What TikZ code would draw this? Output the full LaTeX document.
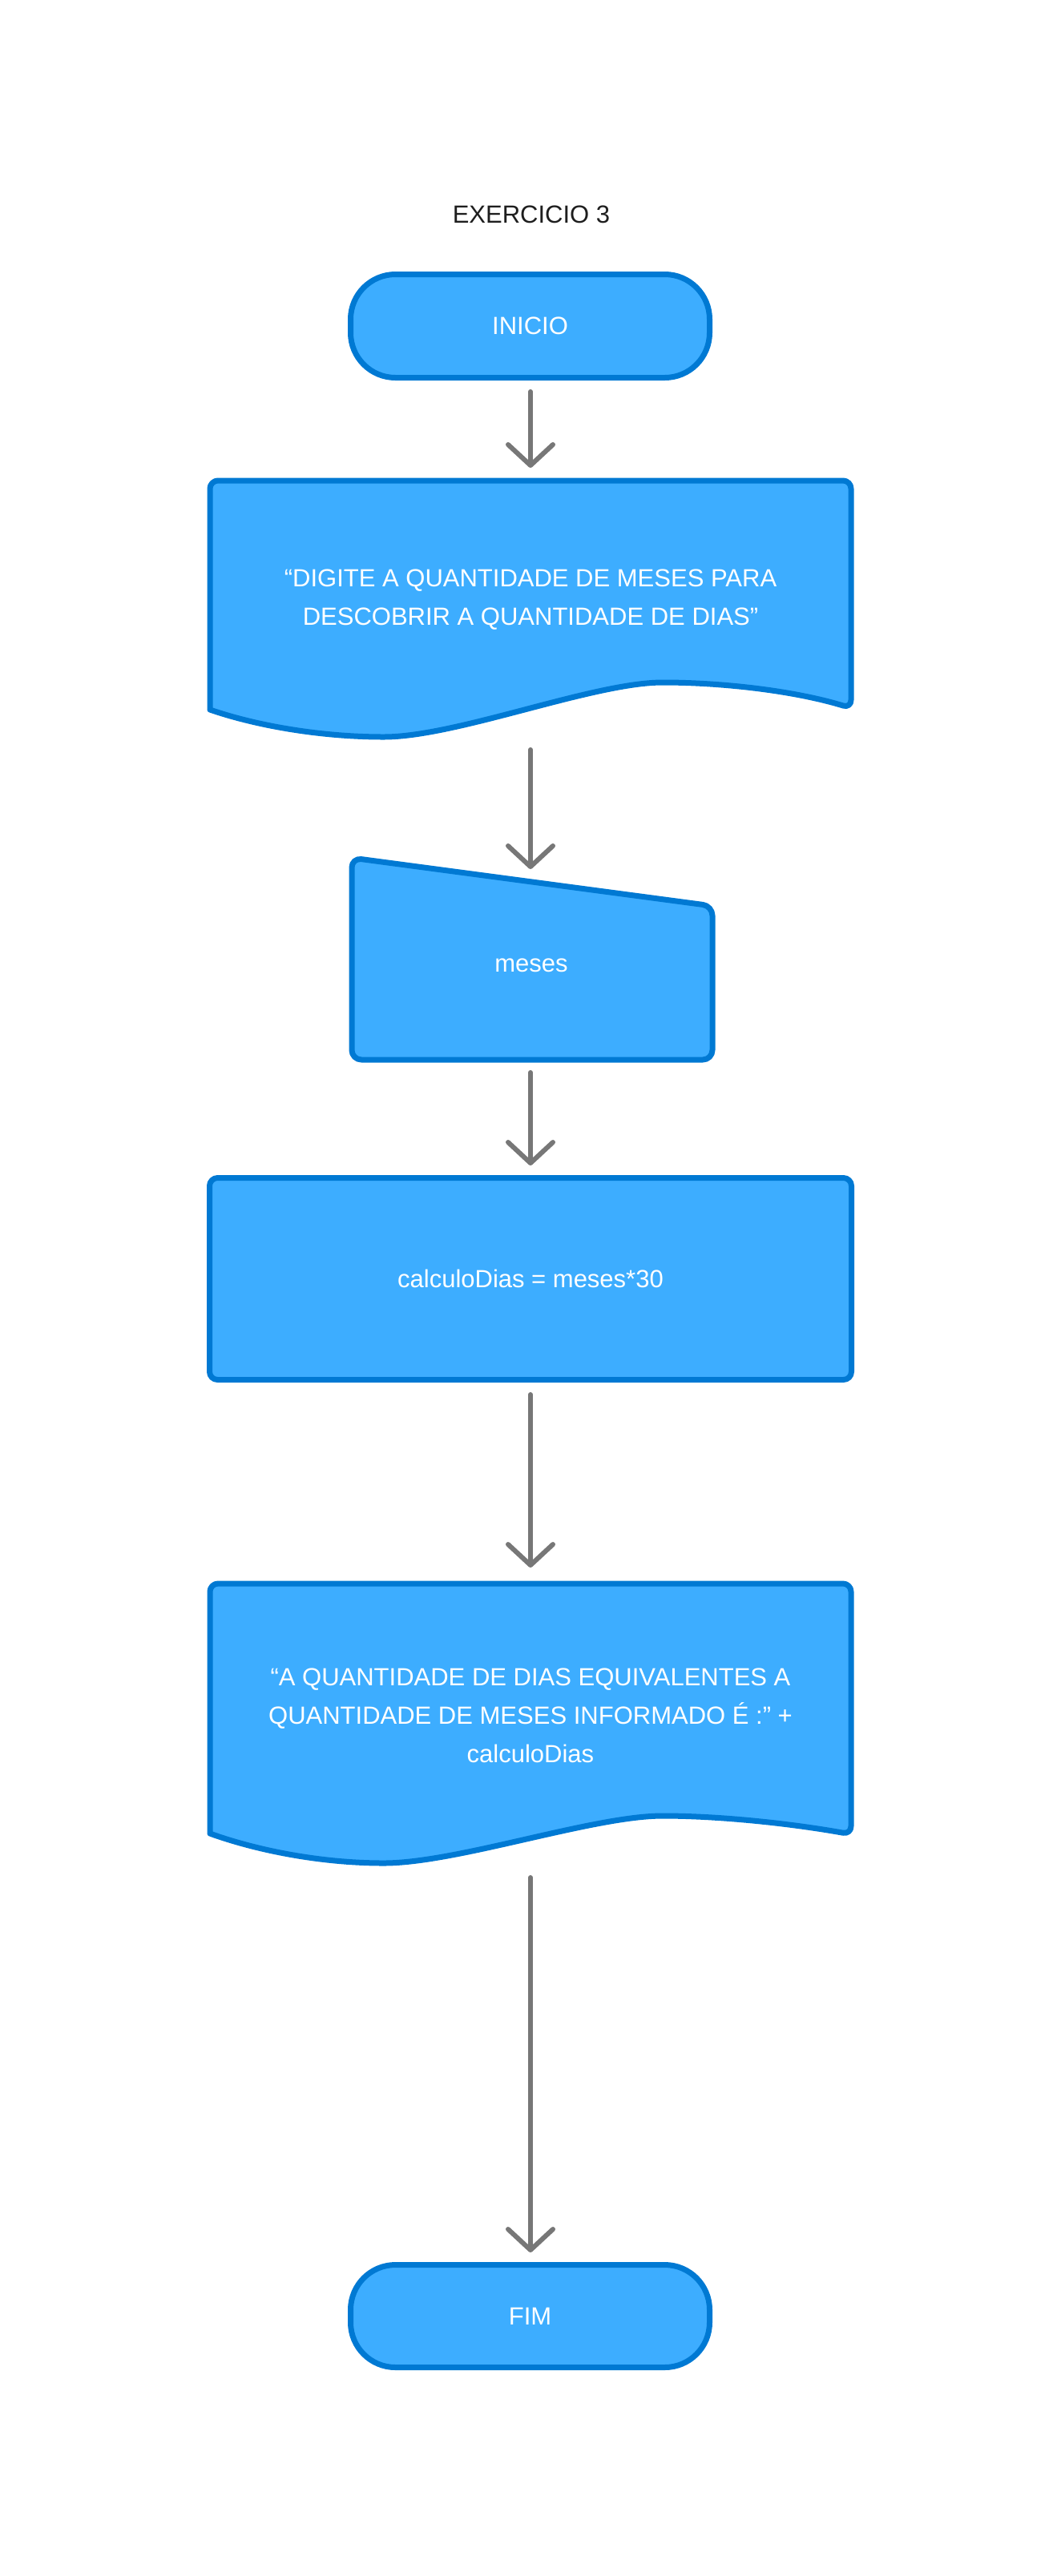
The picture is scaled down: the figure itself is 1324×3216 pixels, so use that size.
\documentclass[tikz,border=0pt]{standalone}
\usepackage{fontspec}
\setmainfont{Liberation Sans}
\usetikzlibrary{arrows.meta}
\definecolor{boxfill}{HTML}{3DADFF}
\definecolor{boxline}{HTML}{0079D3}
\definecolor{arrowgray}{HTML}{777777}
\definecolor{titlecol}{HTML}{1E1E1E}
\begin{document}
\begin{tikzpicture}[x=1pt,y=-1pt,
  boxsty/.style={fill=boxfill,draw=boxline,line width=7pt,line join=round},
  txt/.style={text=white,font=\fontsize{31}{48}\selectfont,align=center},
  nodebox/.style={boxsty,txt,inner sep=0pt},
  flow/.style={draw=arrowgray,line width=6pt,line cap=round,-{Straight Barb[length=26pt,width=56pt,round]}}]
\path[use as bounding box] (0,0) rectangle (1324,3216);

% title
\node[font=\fontsize{31}{38}\selectfont,text=titlecol] (title) at (663,268) {EXERCICIO 3};

% INICIO
\node[nodebox,rounded corners=56pt,minimum width=448pt,minimum height=129pt] (inicio) at (661.5,407) {INICIO};

% document 1
\draw[boxsty] (262,886) [rounded corners=10pt] -- (262,600) -- (1062,600) -- (1062,884) [sharp corners]
  .. controls (990,862) and (900,852) .. (827,852)
  .. controls (740,852) and (570,920) .. (479,920)
  .. controls (400,920) and (320,906) .. (262,886) -- cycle;
\node[txt] (doc1) at (662,749) {“DIGITE A QUANTIDADE DE MESES PARA\\DESCOBRIR A QUANTIDADE DE DIAS”};

% manual input
\draw[boxsty,rounded corners=12pt] (439,1071) -- (889,1131) -- (889,1323) -- (439,1323) -- cycle;
\node[txt] (meses) at (663,1205) {meses};

% process
\node[nodebox,rounded corners=10pt,minimum width=801pt,minimum height=252pt] (calc) at (662,1596.5) {calculoDias = meses*30};

% document 2
\draw[boxsty] (262,2289) [rounded corners=10pt] -- (262,1977) -- (1062,1977) -- (1062,2290) [sharp corners]
  .. controls (990,2277) and (900,2267) .. (827,2267)
  .. controls (740,2267) and (570,2326) .. (479,2326)
  .. controls (400,2326) and (320,2310) .. (262,2289) -- cycle;
\node[txt] (doc2) at (662,2142) {“A QUANTIDADE DE DIAS EQUIVALENTES A\\QUANTIDADE DE MESES INFORMADO É :” +\\calculoDias};

% FIM
\node[nodebox,rounded corners=56pt,minimum width=448pt,minimum height=128pt] (fim) at (661.5,2891.5) {FIM};

% connectors
\coordinate (a1s) at (662,489);  \coordinate (a1e) at (662,584);
\coordinate (a2s) at (662,936);  \coordinate (a2e) at (662,1085);
\coordinate (a3s) at (662,1339); \coordinate (a3e) at (662,1455);
\coordinate (a4s) at (662,1741); \coordinate (a4e) at (662,1957);
\coordinate (a5s) at (662,2344); \coordinate (a5e) at (662,2812);
\draw[flow] (a1s) -- (a1e);
\draw[flow] (a2s) -- (a2e);
\draw[flow] (a3s) -- (a3e);
\draw[flow] (a4s) -- (a4e);
\draw[flow] (a5s) -- (a5e);
\end{tikzpicture}
\end{document}
